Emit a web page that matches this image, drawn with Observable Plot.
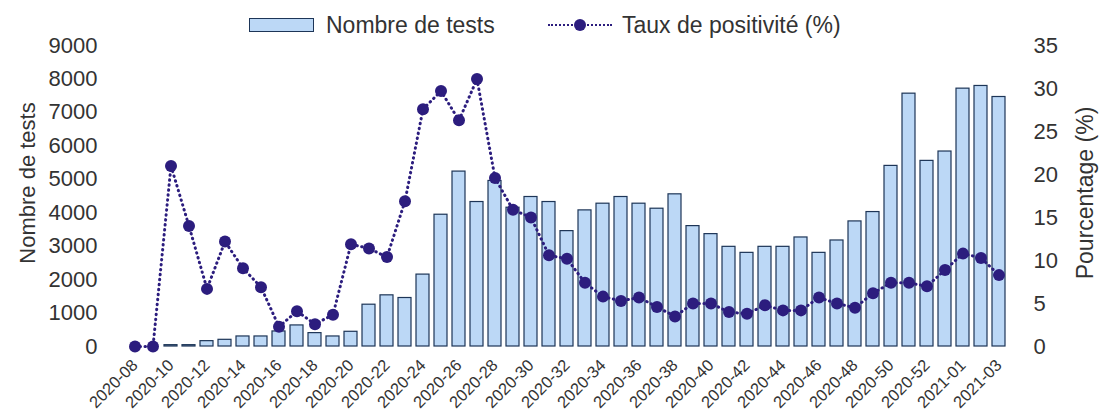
<!DOCTYPE html>
<html><head><meta charset="utf-8">
<script src="https://cdn.jsdelivr.net/npm/d3@7"></script>
<script src="https://cdn.jsdelivr.net/npm/@observablehq/plot@0.6"></script>
<style>
body{margin:0;background:#fff;font-family:"Liberation Sans",Arial,sans-serif;color:#333;}
#legend{position:relative;height:34px;width:1099px;}
#legend span{position:absolute;top:11px;line-height:28px;font-size:23px;white-space:nowrap;}
#legend .sw{position:absolute;background:#bcd8f6;border:1.3px solid #1d3557;}
#legend .ln{position:absolute;border-top:2.5px dotted #2c1d7e;}
#legend .dot{position:absolute;border-radius:50%;background:#2c1d7e;}
</style></head><body>
<div id="legend">
  <div class="sw" style="left:249px;top:18px;width:63px;height:12px"></div>
  <span style="left:326px">Nombre de tests</span>
  <div class="ln" style="left:548px;top:24px;width:64px"></div>
  <div class="dot" style="left:574px;top:19px;width:12px;height:12px"></div>
  <span style="left:622px">Taux de positivité (%)</span>
</div>
<div id="chart"></div>
<script>
const weeks = ["2020-08","2020-09","2020-10","2020-11","2020-12","2020-13","2020-14","2020-15","2020-16","2020-17","2020-18","2020-19","2020-20","2020-21","2020-22","2020-23","2020-24","2020-25","2020-26","2020-27","2020-28","2020-29","2020-30","2020-31","2020-32","2020-33","2020-34","2020-35","2020-36","2020-37","2020-38","2020-39","2020-40","2020-41","2020-42","2020-43","2020-44","2020-45","2020-46","2020-47","2020-48","2020-49","2020-50","2020-51","2020-52","2020-53","2021-01","2021-02","2021-03"];
const tests = [0,0,40,40,160,200,300,300,450,630,400,300,440,1250,1530,1450,2150,3940,5230,4320,4950,4150,4470,4320,3450,4070,4270,4470,4270,4120,4550,3600,3360,2980,2800,2980,2980,3260,2800,3170,3740,4020,5400,7560,5550,5830,7710,7790,7460];
const positivity = [0,0,21.0,14.0,6.7,12.2,9.1,6.9,2.3,4.1,2.6,3.7,11.9,11.4,10.4,16.9,27.6,29.7,26.3,31.1,19.6,15.9,15.0,10.6,10.2,7.4,5.8,5.3,5.7,4.6,3.5,5.0,5.0,4.0,3.8,4.8,4.2,4.2,5.7,5.0,4.5,6.2,7.4,7.4,7.0,8.9,10.8,10.3,8.3];
const leftTicks = [0,1000,2000,3000,4000,5000,6000,7000,8000,9000];
const rightTicks = [0,5,10,15,20,25,30,35];
const xTickLabels = weeks.filter((d,i) => i % 2 === 0);
const leftTitle = "Nombre de tests";
const rightTitle = "Pourcentage (%)";

const yMax = 9000, pMax = 35;
const toY = p => p * yMax / pMax;
const data = weeks.map((w,i) => ({week: w, tests: tests[i], pct: positivity[i]}));

const chart = Plot.plot({
  width: 1099,
  height: 384,
  marginLeft: 120,
  marginRight: 86,
  marginTop: 11,
  marginBottom: 72,
  style: {fontFamily: "Liberation Sans, Arial, sans-serif", color: "#333", background: "#fff"},
  x: {domain: weeks, paddingInner: 0.29, paddingOuter: 0.145, label: null},
  y: {domain: [0, yMax], nice: false, label: null},
  marks: [
    Plot.barY(data, {x: "week", y: "tests", fill: "#bcd8f6", stroke: "#1d3557", strokeWidth: 1.2}),
    Plot.line(data, {x: "week", y: d => toY(d.pct), stroke: "#2c1d7e", strokeWidth: 3, strokeDasharray: "0.5 4.5", strokeLinecap: "round"}),
    Plot.dot(data, {x: "week", y: d => toY(d.pct), r: 6, fill: "#2c1d7e", stroke: "none"}),
    Plot.axisY({anchor: "left", ticks: leftTicks, tickFormat: d3.format("d"), tickSize: 0, tickPadding: 23, fontSize: 22, label: null}),
    Plot.axisY({anchor: "right", ticks: rightTicks.map(toY), tickFormat: d => String(Math.round(d * pMax / yMax)), tickSize: 0, tickPadding: 20, fontSize: 22, label: null}),
    Plot.axisX({ticks: xTickLabels, tickSize: 0, tickPadding: 16, tickRotate: -45, textAnchor: "end", fontSize: 16.5, label: null}),
    Plot.text([leftTitle], {frameAnchor: "left", dx: -93, dy: -13, rotate: -90, textAnchor: "middle", lineAnchor: "middle", fontSize: 22, fill: "#333"}),
    Plot.text([rightTitle], {frameAnchor: "right", dx: 72, dy: -3, rotate: -90, textAnchor: "middle", lineAnchor: "middle", fontSize: 23, fill: "#333"})
  ]
});
document.getElementById("chart").appendChild(chart);
</script>
</body></html>
